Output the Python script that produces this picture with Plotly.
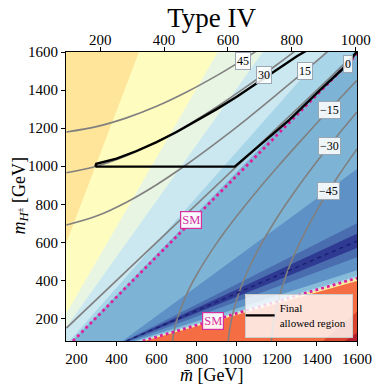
import math
import plotly.graph_objects as go

FONT = "Liberation Serif"

# ---- axis ranges -------------------------------------------------------
X_RANGE = [148, 1600]      # m-bar [GeV]
Y_RANGE = [82, 1600]       # m_H+- [GeV]
TOP_RANGE = [93, 1004]     # top axis
x_ticks = [200, 400, 600, 800, 1000, 1200, 1400, 1600]
y_ticks = [200, 400, 600, 800, 1000, 1200, 1400, 1600]
top_ticks = [200, 400, 600, 800, 1000]

# ---- filled bands: boundary lines (two points each);
# colour = band lying above/left of the boundary, painted bottom-right -> top-left
base_color = "#b51f2e"
bnd_x1 = [1540, 1430, 540, 525, 505, 490, 470, 455, 445, 440, 430, 178, 165, 150, 150, 150]
bnd_y1 = [82, 82, 82, 82, 82, 82, 82, 82, 82, 82, 82, 82, 82, 156, 227, 600]
bnd_x2 = [1600, 1600, 1600, 1600, 1600, 1600, 1600, 1600, 1600, 1600, 1600, 1585, 1440, 1130, 905, 512]
bnd_y2 = [125, 235, 397, 413, 423, 454, 522, 570, 645, 700, 985, 1600, 1600, 1600, 1600, 1600]
band_colors = ["#d9452f", "#f46d43", "#fde9a0", "#b3dbea", "#86bbd9", "#5e91c6",
               "#4a6db0", "#2f3a92", "#4a6db0", "#5e91c6", "#7db3d5", "#a8d5e8",
               "#cbe8f1", "#e9f5e3", "#fefcbf", "#fee59a"]

# ---- grey contour lines ------------------------------------------------
c45_x = [150, 300, 450, 600, 750, 900, 1000, 1100]
c45_y = [1180, 1208, 1254, 1315, 1390, 1476, 1539, 1606]
c30_x = [150, 300, 450, 600, 750, 900, 1050, 1200, 1300]
c30_y = [966, 1000, 1055, 1127, 1213, 1311, 1419, 1533, 1612]
c15_x = [150, 300, 450, 600, 750, 900, 1050, 1200, 1350, 1460]
c15_y = [691, 738, 811, 903, 1009, 1125, 1248, 1377, 1509, 1608]
c0_x = [150, 1600]
c0_y = [150, 1600]
cm15_x = [679, 690, 700, 750, 800, 900, 1000, 1100, 1200, 1300, 1400, 1500, 1600]
cm15_y = [82, 145, 187, 328, 430, 596, 738, 869, 992, 1111, 1227, 1340, 1451]
cm30_x = [957, 960, 970, 1000, 1050, 1100, 1200, 1300, 1400, 1500, 1600]
cm30_y = [82, 108, 176, 300, 439, 548, 728, 883, 1025, 1158, 1285]
cm45_x = [1173, 1180, 1200, 1250, 1300, 1400, 1500, 1600]
cm45_y = [82, 150, 265, 439, 566, 768, 938, 1091]

label_text = ["45", "30", "15", "0", "\u221215", "\u221230", "\u221245"]
label_x = [1030, 1134, 1339, 1555, 1463, 1463, 1458]
label_y = [1554, 1481, 1502, 1535, 1298, 1106, 868]

# ---- SM lines ----------------------------------------------------------
sm_up_x = [183, 1600]
sm_up_y = [82, 1588]
sm_lo_x = [531, 1600]
sm_lo_y = [82, 413]
sm_label_x = [774, 881]
sm_label_y = [717, 188]

# pole line (dashed navy)
pole_x = [450, 1600]
pole_y = [82, 607]

# ---- final allowed region ---------------------------------------------
allowed_x = [1345, 1300, 1200, 1100, 1000, 900, 800, 700, 600, 500, 400, 310, 299, 296, 300,
             990, 1115, 1264, 1414, 1547, 1605]
allowed_y = [1605, 1578, 1507, 1435, 1365, 1300, 1238, 1180, 1127, 1080, 1040, 1016, 1013, 1005, 998,
             998, 1110, 1245, 1398, 1530, 1610]

fig = go.Figure()

BIG = 1e5
fig.add_trace(go.Scatter(x=[-BIG, BIG, BIG, -BIG], y=[-BIG, -BIG, BIG, BIG], fill="toself",
                         fillcolor=base_color, mode="none", hoverinfo="skip", showlegend=False))
for x1, y1, x2, y2, col in zip(bnd_x1, bnd_y1, bnd_x2, bnd_y2, band_colors):
    dx, dy = x2 - x1, y2 - y1
    L = math.hypot(dx, dy)
    ux, uy = dx / L, dy / L
    nx, ny = -uy, ux
    ax, ay = x1 - ux * BIG, y1 - uy * BIG
    bx, by = x2 + ux * BIG, y2 + uy * BIG
    px = [ax, bx, bx + nx * BIG, ax + nx * BIG]
    py = [ay, by, by + ny * BIG, ay + ny * BIG]
    fig.add_trace(go.Scatter(x=px, y=py, fill="toself", fillcolor=col, mode="none",
                             hoverinfo="skip", showlegend=False))

for cx, cy in [(c45_x, c45_y), (c30_x, c30_y), (c15_x, c15_y), (c0_x, c0_y),
               (cm15_x, cm15_y), (cm30_x, cm30_y), (cm45_x, cm45_y)]:
    fig.add_trace(go.Scatter(x=cx, y=cy, mode="lines", line=dict(color="#808080", width=1.6, shape="spline"),
                             hoverinfo="skip", showlegend=False))

fig.add_trace(go.Scatter(x=pole_x, y=pole_y, mode="lines", line=dict(color="#1a1f70", width=1.4, dash="4px,4px"),
                         hoverinfo="skip", showlegend=False))

for sx, sy in [(sm_up_x, sm_up_y), (sm_lo_x, sm_lo_y)]:
    fig.add_trace(go.Scatter(x=sx, y=sy, mode="lines", line=dict(color="#dc1f9a", width=2.8, dash="2.8px,3.2px"),
                             hoverinfo="skip", showlegend=False))

fig.add_trace(go.Scatter(x=allowed_x, y=allowed_y, mode="lines", line=dict(color="black", width=2.4),
                         name="Final<br>allowed region", hoverinfo="skip", showlegend=True))

fig.add_trace(go.Scatter(x=top_ticks, y=[-1000] * len(top_ticks), xaxis="x2", mode="markers",
                         marker=dict(opacity=0), hoverinfo="skip", showlegend=False))

for t, x, y in zip(label_text, label_x, label_y):
    fig.add_annotation(x=x, y=y, text=t, showarrow=False, font=dict(family=FONT, size=12, color="black"),
                       bgcolor="rgba(255,255,255,0.88)", bordercolor="#9aa6b2", borderwidth=1, borderpad=1)
for x, y in zip(sm_label_x, sm_label_y):
    fig.add_annotation(x=x, y=y, text="SM", showarrow=False, font=dict(family=FONT, size=12.5, color="#d6309e"),
                       bgcolor="rgba(255,255,255,0.92)", bordercolor="#d6309e", borderwidth=1.2, borderpad=1)

# axis titles
fig.add_annotation(xref="paper", yref="paper", x=0.5, y=-0.118, text="<i>m\u0304</i> [GeV]",
                   showarrow=False, yanchor="middle", font=dict(family=FONT, size=18, color="black"))
fig.add_annotation(xref="paper", yref="paper", x=-0.158, y=0.5, textangle=-90,
                   text="<i>m</i><sub><i>H</i><sup>\u00b1</sup></sub> [GeV]",
                   showarrow=False, xanchor="center", font=dict(family=FONT, size=18, color="black"))

axis_common = dict(showgrid=False, zeroline=False, ticks="outside", ticklen=4, tickcolor="black",
                   tickfont=dict(family=FONT, size=15, color="black"), showline=True, linecolor="black",
                   linewidth=1.2, automargin=False)
fig.update_layout(
    width=380, height=392,
    margin=dict(l=66, r=23, t=52, b=51),
    plot_bgcolor="white", paper_bgcolor="white",
    title=dict(text="Type IV", x=0.557, xanchor="center", y=0.955, yanchor="middle",
               font=dict(family=FONT, size=27, color="black"), automargin=False),
    xaxis=dict(range=X_RANGE, tickvals=x_ticks, mirror=False, **axis_common),
    xaxis2=dict(range=TOP_RANGE, tickvals=top_ticks, overlaying="x", side="top", anchor="y",
                ticklabelstandoff=-4, **axis_common),
    yaxis=dict(range=Y_RANGE, tickvals=y_ticks, mirror=True, **axis_common),
    legend=dict(x=0.985, y=0.012, xanchor="right", yanchor="bottom", bgcolor="rgba(255,255,255,0.8)",
                bordercolor="#cccccc", borderwidth=1, font=dict(family=FONT, size=11, color="black"),
                itemwidth=30, tracegroupgap=0, indentation=-6),
    showlegend=True,
)

fig.write_html("out.html", config={"displayModeBar": False},
               post_script="document.body.style.margin='0px';")
